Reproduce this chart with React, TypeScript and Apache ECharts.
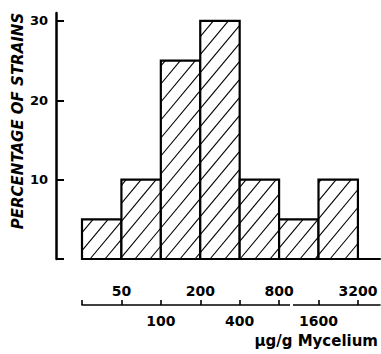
import React, { useEffect, useRef } from "react";
import * as echarts from "echarts";

// Histogram bins (index of bin between consecutive edges) and percentages
const percentages = [5, 10, 25, 30, 10, 5, 10];
// Bin edge labels (µg/g mycelium), edge index 1..7
const edgeLabels = ["50", "100", "200", "400", "800", "1600", "3200"];
const topRowEdges = [1, 3, 5, 7];
const bottomRowEdges = [2, 4, 6];
const allEdges = [0, 1, 2, 3, 4, 5, 6, 7];
const yTickValues = [0, 10, 20, 30];
const yLabelValues = [10, 20, 30];

const FONT = "DejaVu Sans";

export default function App() {
  const ref = useRef<HTMLDivElement>(null);
  useEffect(() => {
    if (!ref.current) return;
    const chart = echarts.init(ref.current, null, { renderer: "svg" });
    const data = percentages.map((v, i) => [i, v]);
    const hatchH = 15;
    const slope = 1.2;
    const labelFmt = (v: number) => edgeLabels[Math.round(v) - 1] ?? "";
    const hiddenX = {
      type: "value",
      gridIndex: 0,
      min: 0,
      max: 1,
      show: false,
    };
    chart.setOption({
      animation: false,
      backgroundColor: "#fff",
      grid: [
        { left: 56, right: 300, top: 13, bottom: 95, containLabel: false },
        { left: 82, right: 1, top: 13, bottom: 95, containLabel: false },
      ],
      xAxis: [
        hiddenX,
        {
          type: "value",
          gridIndex: 1,
          min: 0,
          max: 7.56,
          position: "bottom",
          axisLine: { show: true, lineStyle: { color: "#000", width: 2 } },
          axisTick: { show: false },
          axisLabel: { show: false },
          splitLine: { show: false },
        },
        {
          type: "value",
          gridIndex: 1,
          min: 0,
          max: 7.56,
          position: "bottom",
          offset: 46,
          axisLine: { show: true, lineStyle: { color: "#000", width: 1.6 } },
          axisTick: {
            show: true,
            inside: true,
            length: 5,
            customValues: allEdges,
            lineStyle: { color: "#000", width: 1.6 },
          },
          axisLabel: {
            show: true,
            inside: true,
            margin: 7,
            customValues: topRowEdges,
            formatter: labelFmt,
            color: "#000",
            fontFamily: FONT,
            fontWeight: "bold",
            fontSize: 14,
          },
          splitLine: { show: false },
        },
        {
          type: "value",
          gridIndex: 1,
          min: 0,
          max: 7.56,
          position: "bottom",
          offset: 46,
          axisLine: { show: false },
          axisTick: { show: false },
          axisLabel: {
            show: true,
            margin: 9,
            customValues: bottomRowEdges,
            formatter: labelFmt,
            color: "#000",
            fontFamily: FONT,
            fontWeight: "bold",
            fontSize: 14,
          },
          splitLine: { show: false },
        },
      ],
      yAxis: [
        {
          type: "value",
          gridIndex: 0,
          min: 0,
          max: 31,
          position: "left",
          axisLine: { show: true, lineStyle: { color: "#000", width: 2.5 } },
          axisTick: {
            show: true,
            inside: true,
            length: 8,
            customValues: yTickValues,
            lineStyle: { color: "#000", width: 2 },
          },
          axisLabel: {
            show: true,
            margin: 8,
            customValues: yLabelValues,
            color: "#000",
            fontFamily: FONT,
            fontWeight: "bold",
            fontSize: 13,
          },
          splitLine: { show: false },
        },
        {
          type: "value",
          gridIndex: 1,
          min: 0,
          max: 31,
          show: false,
        },
      ],
      series: [
        {
          type: "custom",
          xAxisIndex: 1,
          yAxisIndex: 1,
          data,
          clip: false,
          renderItem: (params: any, api: any) => {
            const i = api.value(0);
            const v = api.value(1);
            const p0 = api.coord([i, 0]);
            const p1 = api.coord([i + 1, v]);
            const x0 = p0[0];
            const x1 = p1[0];
            const yb = p0[1];
            const yt = p1[1];
            const H = yb - yt;
            const children: any[] = [
              {
                type: "rect",
                shape: { x: x0, y: yt, width: x1 - x0, height: H },
                style: { fill: "#fff" },
              },
            ];
            const kStart = Math.floor((x0 - H / slope) / hatchH) - 1;
            const kEnd = Math.ceil(x1 / hatchH) + 1;
            for (let k = kStart; k <= kEnd; k++) {
              const xs = k * hatchH;
              const xa = Math.max(x0, xs);
              const xb = Math.min(x1, xs + H / slope);
              if (xb - xa > 0.5) {
                children.push({
                  type: "line",
                  shape: {
                    x1: xa,
                    y1: yb - slope * (xa - xs),
                    x2: xb,
                    y2: yb - slope * (xb - xs),
                  },
                  style: { stroke: "#000", lineWidth: 1.1 },
                });
              }
            }
            children.push({
              type: "rect",
              shape: { x: x0, y: yt, width: x1 - x0, height: H },
              style: { fill: "none", stroke: "#000", lineWidth: 2.2 },
            });
            return { type: "group", children };
          },
        },
      ],
      graphic: [
        {
          type: "text",
          x: 17.5,
          y: 121,
          rotation: Math.PI / 2,
          style: {
            text: "PERCENTAGE OF STRAINS",
            fontFamily: FONT,
            fontWeight: "bold",
            fontStyle: "italic",
            fontSize: 15,
            fill: "#000",
            align: "center",
            verticalAlign: "middle",
          },
        },
        {
          type: "text",
          x: 378,
          y: 341,
          style: {
            text: "µg/g Mycelium",
            fontFamily: FONT,
            fontWeight: "bold",
            fontSize: 15,
            fill: "#000",
            align: "right",
            verticalAlign: "middle",
          },
        },
        {
          type: "rect",
          x: 290,
          y: 301,
          z: 100,
          shape: { width: 3, height: 8 },
          style: { fill: "#fff" },
        },
      ],
    });
    return () => chart.dispose();
  }, []);
  return (
    <div
      ref={ref}
      style={{ position: "fixed", left: 0, top: 0, width: 381, height: 354, background: "#fff" }}
    />
  );
}
